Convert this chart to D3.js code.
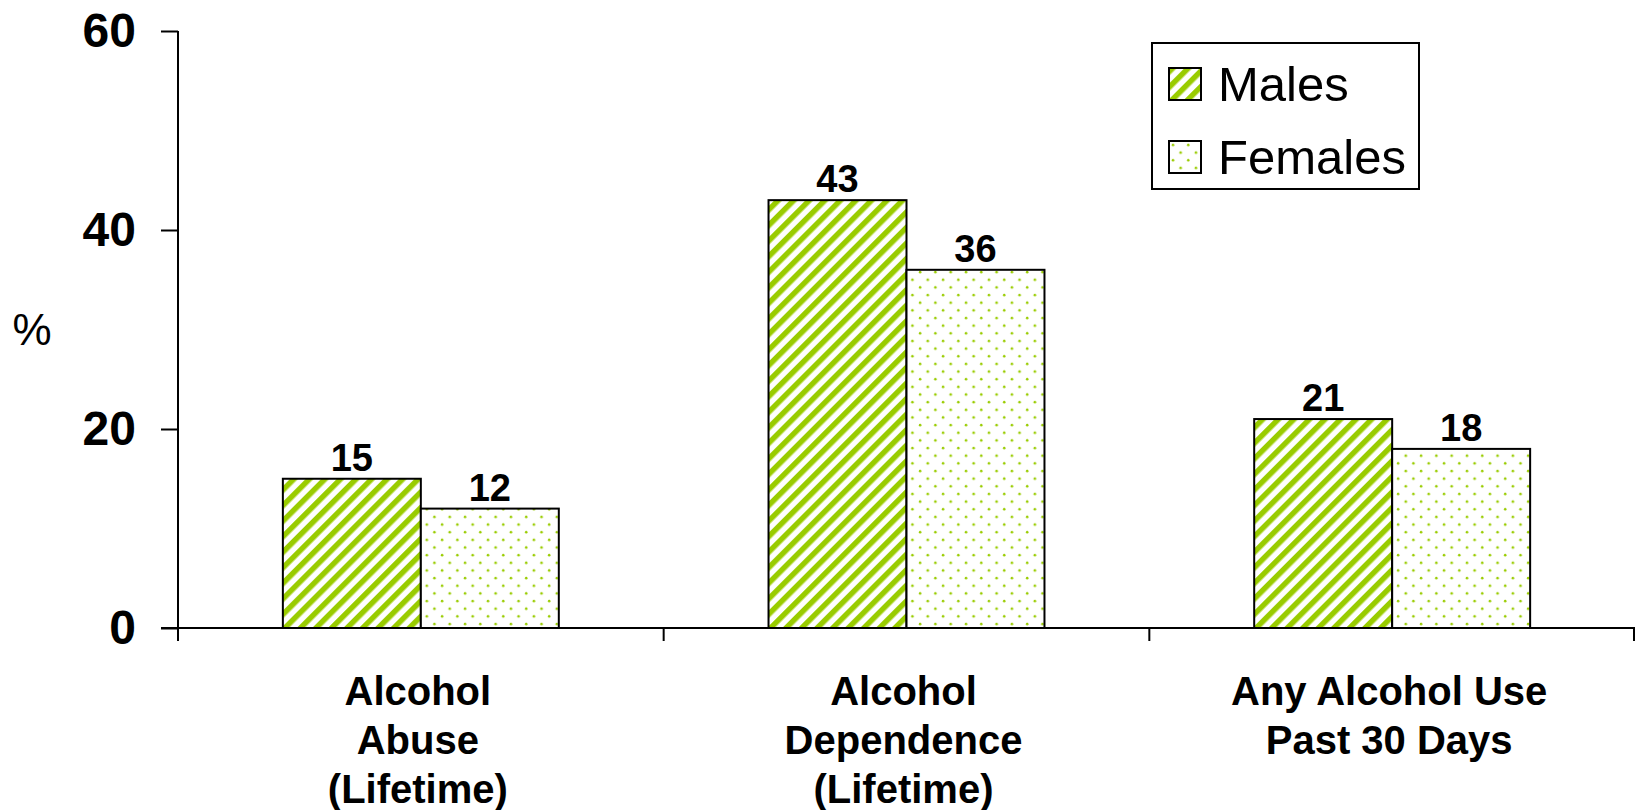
<!DOCTYPE html>
<html>
<head>
<meta charset="utf-8">
<script src="https://cdn.jsdelivr.net/npm/d3@7"></script>
<style>
  body { margin: 0; background: #fff; }
  svg { display: block; font-family: "Liberation Sans", Arial, sans-serif; }
</style>
</head>
<body>
<div id="chart-area"></div>
<script>
// data
var categories = [
  ['Alcohol', 'Abuse', '(Lifetime)'],
  ['Alcohol', 'Dependence', '(Lifetime)'],
  ['Any Alcohol Use', 'Past 30 Days']
];
var seriesNames = ['Males', 'Females'];
var males = [15, 43, 21];
var females = [12, 36, 18];
var yTicks = [0, 20, 40, 60];

var W = 1635, H = 810;
var margin = { left: 178, right: 0, top: 31, bottom: 182 };
var width = W - margin.left - margin.right;
var height = H - margin.top - margin.bottom;
var green = '#99cc00';

var svg = d3.select('#chart-area')
  .append('svg')
  .attr('width', W)
  .attr('height', H);

// patterns
var defs = svg.append('defs');
var stripes = defs.append('pattern')
  .attr('id', 'stripes')
  .attr('patternUnits', 'userSpaceOnUse')
  .attr('width', 11)
  .attr('height', 11)
  .attr('patternTransform', 'rotate(45)');
stripes.append('rect').attr('width', 11).attr('height', 11).attr('fill', '#fff');
stripes.append('rect').attr('width', 5.5).attr('height', 11).attr('fill', green);

var dots = defs.append('pattern')
  .attr('id', 'dots')
  .attr('patternUnits', 'userSpaceOnUse')
  .attr('width', 15.3)
  .attr('height', 15.3);
dots.append('rect').attr('width', 15.3).attr('height', 15.3).attr('fill', '#fff');
dots.append('circle').attr('cx', 4).attr('cy', 4).attr('r', 1.3).attr('fill', green);
dots.append('circle').attr('cx', 11.65).attr('cy', 11.65).attr('r', 1.3).attr('fill', green);

var fills = { Males: 'url(#stripes)', Females: 'url(#dots)' };

var g = svg.append('g')
  .attr('transform', 'translate(' + margin.left + ', ' + margin.top + ')');

// scales
var x0 = d3.scaleBand()
  .domain(d3.range(categories.length))
  .range([0, width])
  .padding(0);

var x1 = d3.scaleBand()
  .domain(seriesNames)
  .range([0, x0.bandwidth()])
  .paddingInner(0)
  .paddingOuter(0.76);

var y = d3.scaleLinear()
  .domain([0, 60])
  .range([height, 0]);

// bars
var rows = categories.map(function(c, i) {
  return [
    { key: 'Males', value: males[i], cat: i },
    { key: 'Females', value: females[i], cat: i }
  ];
});

var groups = g.selectAll('.cat')
  .data(rows)
  .enter().append('g')
    .attr('class', 'cat')
    .attr('transform', function(d, i) { return 'translate(' + x0(i) + ',0)'; });

groups.selectAll('rect')
  .data(function(d) { return d; })
  .enter().append('rect')
    .attr('x', function(d) { return x1(d.key); })
    .attr('y', function(d) { return y(d.value); })
    .attr('width', x1.bandwidth())
    .attr('height', function(d) { return height - y(d.value); })
    .attr('fill', function(d) { return fills[d.key]; })
    .attr('stroke', '#000')
    .attr('stroke-width', 2);

groups.selectAll('.val')
  .data(function(d) { return d; })
  .enter().append('text')
    .attr('class', 'val')
    .attr('x', function(d) { return x1(d.key) + x1.bandwidth() / 2; })
    .attr('y', function(d) { return y(d.value) - 8; })
    .attr('text-anchor', 'middle')
    .attr('font-size', '38px')
    .attr('font-weight', 'bold')
    .text(function(d) { return d.value; });

// Y axis
var yAxis = g.append('g')
  .call(d3.axisLeft(y).tickValues(yTicks).tickSize(17).tickPadding(25));
yAxis.select('.domain').attr('stroke-width', 2).attr('d', 'M0,0V' + (height + 10));
yAxis.selectAll('.tick line').attr('stroke-width', 2);
yAxis.selectAll('.tick text')
  .attr('font-size', '48px')
  .attr('font-weight', 'bold')
  .attr('font-family', '"Liberation Sans", Arial, sans-serif')
  .attr('fill', '#000');

// X axis
var xAxis = g.append('g')
  .attr('transform', 'translate(0,' + height + ')');
xAxis.append('line')
  .attr('x1', -17).attr('x2', width)
  .attr('stroke', '#000').attr('stroke-width', 2);
xAxis.selectAll('.xtick')
  .data(d3.range(categories.length + 1))
  .enter().append('line')
    .attr('x1', function(d) { return d < categories.length ? x0(d) : width - 1; })
    .attr('x2', function(d) { return d < categories.length ? x0(d) : width - 1; })
    .attr('y1', 0).attr('y2', 13)
    .attr('stroke', '#000').attr('stroke-width', 2);

// category labels
xAxis.selectAll('.catlabel')
  .data(categories)
  .enter().append('text')
    .attr('class', 'catlabel')
    .attr('text-anchor', 'middle')
    .attr('font-size', '40px')
    .attr('font-weight', 'bold')
    .attr('transform', function(d, i) { return 'translate(' + (x0(i) + x0.bandwidth() / 2 - 3) + ',0)'; })
    .selectAll('tspan')
    .data(function(d) { return d; })
    .enter().append('tspan')
      .attr('x', 0)
      .attr('y', function(d, i) { return 77 + i * 49; })
      .text(function(d) { return d; });

// Y label
svg.append('text')
  .attr('x', 32)
  .attr('y', 345)
  .attr('text-anchor', 'middle')
  .attr('font-size', '44px')
  .text('%');

// legend
var legend = svg.append('g').attr('transform', 'translate(1152,43)');
legend.append('rect')
  .attr('width', 267).attr('height', 146)
  .attr('fill', '#fff').attr('stroke', '#000').attr('stroke-width', 2);
var items = legend.selectAll('.item')
  .data(seriesNames)
  .enter().append('g')
    .attr('class', 'item')
    .attr('transform', function(d, i) { return 'translate(17,' + (25 + i * 73) + ')'; });
items.append('rect')
  .attr('width', 32).attr('height', 32)
  .attr('fill', function(d) { return fills[d]; })
  .attr('stroke', '#000').attr('stroke-width', 2);
items.append('text')
  .attr('x', 49)
  .attr('y', 33)
  .attr('font-size', '49px')
  .text(function(d) { return d; });
</script>
</body>
</html>
